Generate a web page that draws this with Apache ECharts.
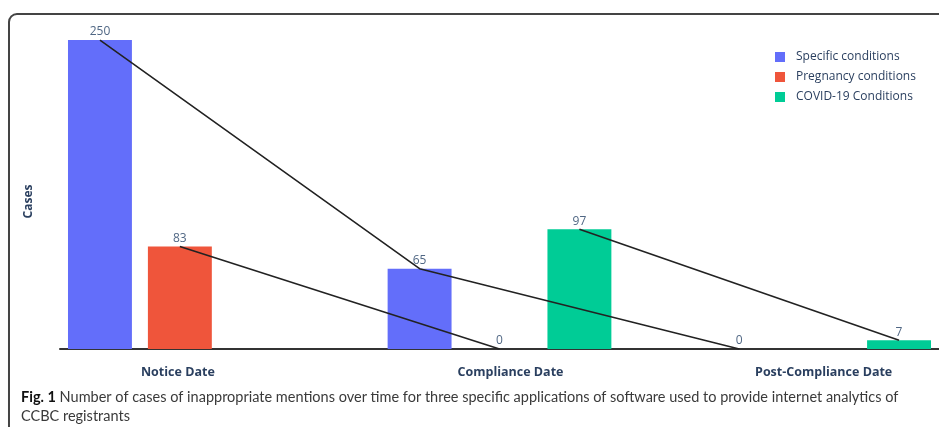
<!DOCTYPE html>
<html>
<head>
<meta charset="utf-8">
<script src="https://cdn.jsdelivr.net/npm/echarts@6/dist/echarts.min.js"></script>
<style>
html,body{margin:0;padding:0;background:#fff;}
#chart{width:939px;height:427px;}
</style>
</head>
<body>
<div id="chart"></div>
<script>
const categories = ['Notice Date', 'Compliance Date', 'Post-Compliance Date'];
const seriesNames = ['Specific conditions', 'Pregnancy conditions', 'COVID-19 Conditions'];
const specificValues = [250, 65, 0];
const pregnancyValues = [83, 0, null];
const covidValues = [null, 97, 7];
const colors = ['#636EFA', '#EF553B', '#00CC96'];

const allValues = [specificValues, pregnancyValues, covidValues];
const BAR_FRAC = 0.2;      // bar width as share of category band
const GAP_FRAC = 0.05;     // gap between bars (25% of bar width)
const SLOT = BAR_FRAC + GAP_FRAC;

const axisFont = 'Open Sans';
const textColor = '#2a3f5f';
const labelStyles = ['n', 'c', 'p'];

const barSeries = allValues.map((vals, s) => ({
  name: seriesNames[s],
  type: 'bar',
  barWidth: (BAR_FRAC * 100) + '%',
  barGap: (GAP_FRAC / BAR_FRAC * 100) + '%',
  itemStyle: { color: colors[s] },
  label: {
    show: true, position: 'top', distance: 2,
    color: '#506784', fontSize: 12, fontFamily: axisFont
  },
  data: vals.map((v, i) => v === null ? null : [i, v])
}));

const lineSeries = allValues.map((vals, s) => ({
  name: 'trend-' + s,
  type: 'line',
  symbol: 'none',
  lineStyle: { color: '#222', width: 1.6 },
  z: 5,
  data: vals.map((v, i) => v === null ? null : [i + (s - 1) * SLOT, v]).filter(d => d !== null)
}));

const tickFont = { fontFamily: axisFont, fontSize: 12.5, fontWeight: 'bold', color: textColor };

const chart = echarts.init(document.getElementById('chart'));
chart.setOption({
  animation: false,
  title: {
    text: '{b|Fig. 1} Number of cases of inappropriate mentions over time for three specific applications of software used to provide internet analytics of\nCCBC registrants',
    left: 21, top: 388, padding: 0,
    textStyle: {
      fontFamily: 'Lato', fontSize: 14.5, fontWeight: 'normal', color: '#3a3a3a', lineHeight: 19,
      rich: { b: { fontFamily: 'Lato', fontSize: 14.5, fontWeight: 'bold', color: '#111', lineHeight: 19 } }
    }
  },
  legend: {
    data: seriesNames,
    orient: 'vertical',
    left: 770, top: 46,
    icon: 'rect',
    itemWidth: 10, itemHeight: 10, itemGap: 8,
    textStyle: { fontFamily: axisFont, fontSize: 12, color: textColor, padding: [0, 0, 0, 6] }
  },
  graphic: [{
    type: 'rect', z: -10, silent: true,
    shape: { x: 9, y: 14, width: 980, height: 460, r: 8 },
    style: { fill: 'none', stroke: '#444', lineWidth: 2 }
  }],
  grid: { left: 60, right: 0, top: 24, bottom: 78 },
  xAxis: {
    type: 'value',
    min: -0.375, max: 2.375,
    splitLine: { show: false },
    axisLine: { show: true, onZero: false, lineStyle: { color: '#333', width: 2 } },
    axisTick: { show: false },
    axisLabel: {
      customValues: [0, 1, 2],
      formatter: v => {
        const i = Math.round(v);
        return categories[i] ? '{' + labelStyles[i] + '|' + categories[i] + '}' : '';
      },
      margin: 17,
      rich: {
        n: Object.assign({ padding: [0, 4, 0, 0] }, tickFont),
        c: Object.assign({ padding: [0, 0, 0, 22] }, tickFont),
        p: Object.assign({ padding: [0, 0, 0, 9] }, tickFont)
      }
    }
  },
  yAxis: {
    type: 'value', min: 0, max: 263,
    name: 'Cases', nameLocation: 'middle', nameGap: 25,
    nameTextStyle: { fontFamily: axisFont, fontSize: 12, fontWeight: 'bold', color: textColor, padding: [0, 30, 0, 0] },
    axisLine: { show: false }, axisTick: { show: false }, axisLabel: { show: false }, splitLine: { show: false }
  },
  series: barSeries.concat(lineSeries)
});
</script>
</body>
</html>
